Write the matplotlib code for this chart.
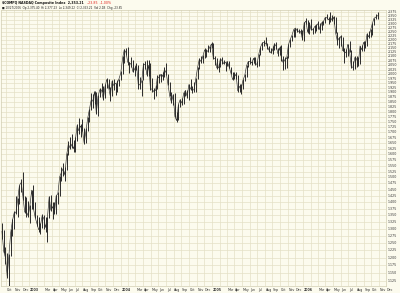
import numpy as np
import pandas as pd
import matplotlib
matplotlib.use("Agg")
from matplotlib import pyplot as plt
import matplotlib.dates as mdates
import matplotlib.transforms as mtransforms

# ---------------------------------------------
# Weekly bars ($COMPQ), week ending Friday, from 2002-09-13
# ---------------------------------------------
first_week = "2002-09-13"

highs_2002 = [1320, 1295, 1235, 1215, 1212, 1300, 1335, 1365, 1425, 1415, 1470, 1495, 1521, 1425, 1420, 1405]
lows_2002 = [1265, 1215, 1180, 1135, 1108, 1205, 1275, 1300, 1355, 1345, 1395, 1440, 1410, 1360, 1345, 1345]
closes_2002 = [1291, 1221, 1199, 1139, 1210, 1287, 1331, 1360, 1359, 1411, 1468, 1479, 1422, 1362, 1363, 1348]

highs_2003 = [1390, 1450, 1470, 1400, 1350, 1345, 1320, 1355, 1350, 1345, 1345, 1425, 1430,
              1400, 1400, 1430, 1440, 1505, 1545, 1560, 1545, 1605, 1660, 1680, 1695, 1665,
              1680, 1740, 1770, 1740, 1765, 1720, 1720, 1775, 1815, 1895, 1890, 1910, 1900,
              1885, 1925, 1950, 1935, 1945, 1980, 1975, 1930, 1965, 1975, 1950, 1965, 1975]
lows_2003 = [1320, 1375, 1375, 1340, 1310, 1290, 1280, 1305, 1300, 1290, 1253, 1340, 1365,
             1335, 1355, 1355, 1395, 1425, 1485, 1505, 1485, 1530, 1595, 1625, 1630, 1610,
             1610, 1660, 1695, 1680, 1705, 1645, 1650, 1705, 1750, 1810, 1820, 1840, 1790,
             1780, 1875, 1900, 1860, 1870, 1925, 1920, 1855, 1880, 1915, 1885, 1905, 1935]
closes_2003 = [1387, 1448, 1376, 1342, 1320, 1297, 1311, 1349, 1337, 1305, 1340, 1421, 1369,
               1383, 1358, 1425, 1434, 1502, 1521, 1538, 1510, 1596, 1646, 1627, 1645, 1625,
               1663, 1733, 1708, 1731, 1715, 1652, 1702, 1765, 1810, 1858, 1855, 1905, 1792,
               1880, 1915, 1913, 1865, 1932, 1970, 1930, 1881, 1960, 1937, 1949, 1951, 1974]

highs_2004 = [2015, 2100, 2145, 2150, 2155, 2070, 2095, 2080, 2045, 2065, 2050, 1985, 1965,
              2060, 2075, 2080, 2080, 2060, 1980, 1925, 1940, 1995, 2000, 2000, 2010, 2040,
              2060, 2000, 1955, 1905, 1890, 1895, 1800, 1840, 1865, 1870, 1900, 1915, 1915,
              1945, 1975, 1935, 1955, 1980, 2040, 2090, 2100, 2110, 2150, 2145, 2170, 2160, 2185]
lows_2004 = [1965, 2000, 2060, 2110, 2050, 2005, 2040, 2010, 1990, 2020, 1920, 1920, 1880,
             1965, 2030, 1990, 1990, 1915, 1905, 1865, 1880, 1920, 1950, 1955, 1965, 1985,
             1995, 1940, 1880, 1845, 1835, 1775, 1750, 1760, 1825, 1835, 1840, 1880, 1870,
             1860, 1915, 1895, 1905, 1900, 1970, 2030, 2060, 2060, 2090, 2095, 2125, 2125, 2150]
closes_2004 = [2006, 2086, 2140, 2124, 2066, 2064, 2053, 2012, 2029, 2055, 1944, 1940, 1960,
               2057, 2052, 1995, 2050, 1920, 1917, 1904, 1912, 1987, 1978, 1999, 1987, 2025,
               2007, 1946, 1883, 1849, 1887, 1777, 1757, 1838, 1862, 1845, 1895, 1910, 1880,
               1942, 1919, 1912, 1915, 1975, 2038, 2085, 2070, 2101, 2139, 2126, 2135, 2157, 2175]

highs_2005 = [2180, 2100, 2090, 2060, 2090, 2095, 2080, 2070, 2075, 2075, 2040, 2010,
              2010, 2010, 1995, 1945, 1945, 1975, 2000, 2050, 2075, 2095, 2075, 2095, 2095,
              2075, 2115, 2155, 2185, 2200, 2220, 2180, 2165, 2150, 2160, 2180, 2185, 2150, 2160,
              2170, 2100, 2095, 2100, 2175, 2205, 2230, 2265, 2275, 2275, 2270, 2265, 2260]
lows_2005 = [2085, 2050, 2030, 2010, 2040, 2055, 2055, 2015, 2045, 2035, 2000, 1965,
             1970, 1975, 1905, 1905, 1890, 1920, 1960, 1985, 2040, 2055, 2050, 2060, 2050,
             2040, 2045, 2110, 2140, 2165, 2175, 2145, 2125, 2120, 2115, 2140, 2145, 2100, 2110,
             2075, 2025, 2030, 2035, 2090, 2155, 2190, 2220, 2220, 2245, 2240, 2235, 2200]
closes_2005 = [2088, 2088, 2034, 2035, 2086, 2076, 2058, 2065, 2070, 2041, 2008, 1970,
               1984, 1999, 1908, 1932, 1921, 1967, 1992, 2046, 2071, 2072, 2063, 2090, 2053,
               2057, 2112, 2156, 2179, 2184, 2178, 2157, 2135, 2121, 2141, 2175, 2161, 2116, 2152,
               2090, 2064, 2082, 2089, 2170, 2202, 2227, 2263, 2273, 2256, 2252, 2250, 2205]

highs_2006 = [2310, 2335, 2325, 2310, 2330, 2275, 2290, 2300, 2320, 2305, 2315, 2320, 2345,
              2365, 2345, 2375, 2355, 2350, 2345, 2250, 2220, 2230, 2220, 2150, 2145, 2175,
              2195, 2140, 2075, 2100, 2100, 2095, 2165, 2170, 2190, 2190, 2240, 2255, 2270,
              2305, 2340, 2365, 2380]
lows_2006 = [2190, 2300, 2240, 2235, 2260, 2235, 2240, 2255, 2270, 2240, 2260, 2290, 2305,
             2330, 2300, 2310, 2315, 2300, 2240, 2170, 2150, 2160, 2130, 2065, 2095, 2100,
             2125, 2035, 2020, 2030, 2040, 2045, 2055, 2135, 2135, 2150, 2160, 2210, 2215,
             2230, 2290, 2330, 2330]
closes_2006 = [2305, 2317, 2247, 2304, 2262, 2262, 2282, 2287, 2302, 2262, 2306, 2313, 2340,
               2339, 2326, 2342, 2323, 2343, 2243, 2193, 2210, 2220, 2135, 2130, 2121, 2172,
               2130, 2038, 2039, 2094, 2086, 2057, 2163, 2140, 2184, 2165, 2235, 2218, 2258,
               2300, 2336, 2342, 2353]

# price axis labels
price_ticks = list(range(1125, 2376, 25))

title_main = "$COMPQ NASDAQ Composite Index  2,353.21"
title_change = "-23.85  -1.00%"
title_sub = "\u25a0 10/27/2006  Op 2,375.40  Hi 2,377.23  Lo 2,349.22  Cl 2,353.21  Vol 2.1B  Chg -23.85"

# ---------------------------------------------
# Assemble
# ---------------------------------------------
highs = np.array(highs_2002 + highs_2003 + highs_2004 + highs_2005 + highs_2006, dtype=float)
lows = np.array(lows_2002 + lows_2003 + lows_2004 + lows_2005 + lows_2006, dtype=float)
closes = np.array(closes_2002 + closes_2003 + closes_2004 + closes_2005 + closes_2006, dtype=float)
weeks = pd.date_range(first_week, periods=len(highs), freq="W-FRI")
xw = mdates.date2num(weeks.to_pydatetime())

BG = "#FCFBEE"
GRID = "#E4E0C6"
INK = "#2a2a2a"

W, H = 400, 293
fig = plt.figure(figsize=(W / 100, H / 100), dpi=100, facecolor=BG)
ax = fig.add_axes([1 / W, 1 - 286 / H, 385 / W, 276 / H], facecolor=BG)

ax.set_yscale("log")
ax.set_ylim(1109, 2390)
ax.set_xlim(mdates.datestr2num("2002-09-09"), mdates.datestr2num("2006-11-30"))

# ---------------------------------------------
# Grid: monthly verticals, 25-point horizontals
# ---------------------------------------------
months = pd.date_range("2002-10-01", "2006-12-01", freq="MS")
mx = mdates.date2num(months.to_pydatetime())
for x in mx:
    ax.axvline(x, color=GRID, lw=0.5, zorder=0)
for p in price_ticks:
    ax.axhline(p, color=GRID, lw=0.5, zorder=0)

# ---------------------------------------------
# Price bars
# ---------------------------------------------
ax.vlines(xw, lows, highs, color=INK, lw=0.7, zorder=3)
ax.plot(xw, closes, color=INK, lw=0.45, zorder=3)

# ---------------------------------------------
# Axes labels
# ---------------------------------------------
ax.set_xticks([])
ax.set_yticks([])
ax.yaxis.set_minor_locator(matplotlib.ticker.NullLocator())
for s in ax.spines.values():
    s.set_color("#D2CEB3")
    s.set_linewidth(0.5)

ytrans = mtransforms.blended_transform_factory(fig.transFigure, ax.transData)
for p in price_ticks:
    fig.text(388 / W, p, f"{p:,}", transform=ytrans, fontsize=2.3,
             va="center", ha="left", color="#333333")

xtrans = mtransforms.blended_transform_factory(ax.transData, fig.transFigure)
for m, x in zip(months, mx):
    if m.month == 2:
        continue
    lab = str(m.year) if m.month == 1 else m.strftime("%b")
    fig.text(x + 3, 1 - 290 / H, lab, transform=xtrans, fontsize=2.3,
             va="center", ha="left", color="#333333",
             weight="bold" if m.month == 1 else "normal")

fig.text(2 / W, 1 - 3 / H, title_main, fontsize=2.3, weight="bold",
         va="center", ha="left", color="#111111")
fig.text(87 / W, 1 - 3 / H, title_change, fontsize=2.3,
         va="center", ha="left", color="#E0201B")
fig.text(2 / W, 1 - 7.7 / H, title_sub, fontsize=2.0,
         va="center", ha="left", color="#222222")

fig.savefig("out.png", dpi=100, facecolor=BG)
